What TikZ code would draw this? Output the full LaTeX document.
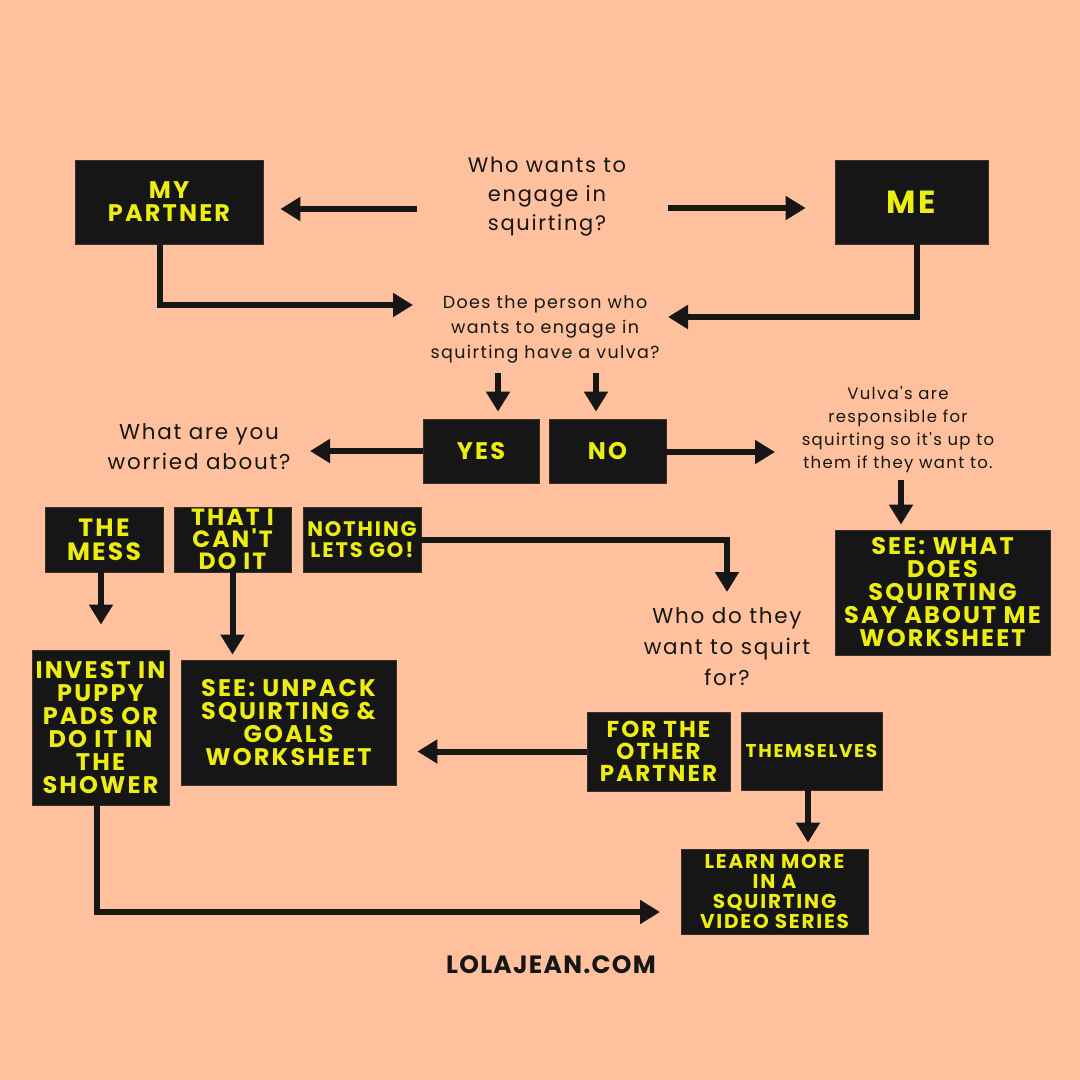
\documentclass[tikz,border=0pt]{standalone}
\usepackage{fontspec}
\setmainfont{Poppins}
\newfontfamily\bodyf{Poppins}[LetterSpace=8]
\newfontfamily\boxf{Poppins}[LetterSpace=9]
\newfontfamily\sitef{Poppins}[LetterSpace=5]
\newcommand{\ap}{\char39\relax}
\usetikzlibrary{arrows.meta}
\definecolor{bg}{HTML}{FFC19D}
\definecolor{boxc}{HTML}{161616}
\definecolor{yel}{HTML}{EDED12}
\begin{document}
\begin{tikzpicture}[x=1pt,y=-1pt,
  box/.style={fill=boxc, draw=boxc!85!bg, line width=0.8pt, text=yel, align=center, inner sep=0pt, font=\boxf\bfseries\fontsize{24}{23}\selectfont},
  q/.style={text=boxc, align=center, inner sep=0pt},
  arr/.style={draw=boxc, line width=6pt, -{Triangle[width=23pt,length=20pt]}}]
\fill[bg] (0,0) rectangle (1080,1080);
% boxes
\node[box, minimum width=188pt, minimum height=84pt] (partner) at (169,202) {MY\\PARTNER};
\node[box, minimum width=153pt, minimum height=84pt, font=\boxf\bfseries\fontsize{32}{32}\selectfont] (me) at (911.5,202) {ME};
\node[box, minimum width=116pt, minimum height=64pt] (yes) at (481,451) {YES};
\node[box, minimum width=117pt, minimum height=64pt] (no) at (607.5,451) {NO};
\node[box, minimum width=118pt, minimum height=65pt, font=\boxf\bfseries\fontsize{25}{24}\selectfont] (mess) at (104,539.5) {THE\\MESS};
\node[box, minimum width=117pt, minimum height=65pt, font=\boxf\bfseries\fontsize{23.5}{22}\selectfont] (cant) at (232.5,539.5) {THAT I\\CAN\ap T\\DO IT};
\node[box, minimum width=118pt, minimum height=65pt, font=\boxf\bfseries\fontsize{21}{21}\selectfont] (nothing) at (362,539.5) {NOTHING\\LETS GO!};
\node[box, minimum width=215pt, minimum height=125pt] (seewhat) at (942.5,592.5) {SEE: WHAT\\DOES\\SQUIRTING\\SAY ABOUT ME\\WORKSHEET};
\node[box, minimum width=137pt, minimum height=155pt] (invest) at (100.5,727.5) {INVEST IN\\PUPPY\\PADS OR\\DO IT IN\\THE\\SHOWER};
\node[box, minimum width=215pt, minimum height=125pt] (unpack) at (288.5,722.5) {SEE: UNPACK\\SQUIRTING \&\\GOALS\\WORKSHEET};
\node[box, minimum width=143pt, minimum height=79pt, font=\boxf\bfseries\fontsize{23}{22}\selectfont] (other) at (658.5,751.5) {FOR THE\\OTHER\\PARTNER};
\node[box, minimum width=141pt, minimum height=78pt, font=\boxf\bfseries\fontsize{18.5}{20}\selectfont] (themselves) at (811.5,751) {THEMSELVES};
\node[box, minimum width=187pt, minimum height=85pt, font=\boxf\bfseries\fontsize{20}{20}\selectfont] (learn) at (774.5,891.5) {LEARN MORE\\IN A\\SQUIRTING\\VIDEO SERIES};
% question texts
\node[q, font=\bodyf\fontsize{21}{29}\selectfont] (q1) at (547,197) {Who wants to\\engage in\\squirting?};
\node[q, font=\bodyf\fontsize{17.5}{25}\selectfont] (q2) at (545,329) {Does the person who\\wants to engage in\\squirting have a vulva?};
\node[q, font=\bodyf\fontsize{21.5}{30}\selectfont] (q3) at (199,447) {What are you\\worried about?};
\node[q, font=\bodyf\fontsize{16.5}{23}\selectfont] (q4) at (898,429.5) {Vulva\ap s are\\responsible for\\squirting so it\ap s up to\\them if they want to.};
\node[q, font=\bodyf\fontsize{21.5}{31}\selectfont] (q5) at (727,647) {Who do they\\want to squirt\\for?};
\node[q, font=\sitef\bfseries\fontsize{25}{25}\selectfont] (site) at (551,965) {LOLAJEAN.COM};
% coordinates for free ends
\coordinate (c1) at (417,209);
\coordinate (c2) at (668,208);
\coordinate (c3) at (413,305);
\coordinate (c4) at (668,317);
\coordinate (c5) at (498,373);
\coordinate (c6) at (596,373);
\coordinate (c7) at (310,451);
\coordinate (c8) at (775,452);
\coordinate (c9) at (901,480);
\coordinate (c11) at (727,592);
\coordinate (c14) at (660,912);
% connectors
\draw[arr, shorten >=17pt] (c1) -- (partner.east |- c1);
\draw[arr, shorten >=29pt] (c2) -- (me.west |- c2);
\draw[arr] ([xshift=-9pt]partner.south) |- (c3);
\draw[arr] ([xshift=5.5pt]me.south) |- (c4);
\draw[arr, shorten >=7pt] (c5) -- (c5 |- yes.north);
\draw[arr, shorten >=7pt] (c6) -- (c6 |- no.north);
\draw[arr] (yes.west) -- (c7);
\draw[arr] (no.east |- c8) -- (c8);
\draw[arr, shorten >=5pt] (c9) -- (c9 |- seewhat.north);
\draw[arr, shorten >=25pt] ([xshift=-3pt]mess.south) -- ([xshift=-3pt]mess.south |- invest.north);
\draw[arr, shorten >=5pt] (cant.south) -- (cant.south |- unpack.north);
\draw[arr] (nothing.east) -| (c11);
\draw[arr, shorten >=21pt] (other.west) -- (other.west -| unpack.east);
\draw[arr, shorten >=6pt] ([xshift=-3.5pt]themselves.south) -- ([xshift=-3.5pt]themselves.south |- learn.north);
\draw[arr] ([xshift=-3.5pt]invest.south) |- (c14);
\end{tikzpicture}
\end{document}
